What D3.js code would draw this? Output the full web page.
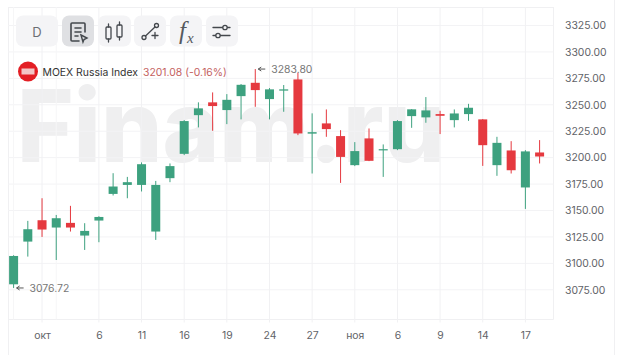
<!DOCTYPE html>
<html><head><meta charset="utf-8">
<script src="https://cdn.jsdelivr.net/npm/d3@7/dist/d3.min.js"></script>
<style>html,body{margin:0;padding:0;background:#fff;overflow:hidden}svg{display:block}text{font-family:Inter,"Noto Sans",sans-serif}</style>
</head><body><svg id="c" width="620" height="355"></svg>
<script>
const open  = [3080.2,3120.6,3140.8,3133.9,3138.3,3126.3,3140.5,3165.7,3174.2,3174.2,3130.1,3180.6,3203.6,3240.2,3252.3,3245.0,3258.2,3270.8,3255.4,3263.4,3274.0,3222.7,3232.4,3220.4,3192.9,3218.2,3207.1,3208.0,3239.3,3238.1,3241.2,3235.5,3241.2,3236.2,3192.9,3206.8,3171.8,3204.9];
const high  = [3107.7,3140.2,3161.6,3145.8,3154.4,3138.0,3144.6,3185.3,3181.8,3195.5,3178.0,3194.5,3235.5,3252.3,3261.7,3260.1,3269.6,3283.8,3265.8,3268.7,3280.3,3241.9,3245.6,3226.0,3214.7,3227.6,3212.5,3235.5,3245.9,3257.3,3244.3,3245.6,3250.9,3236.5,3219.7,3215.6,3207.1,3216.6];
const low   = [3076.72,3106.4,3125.0,3103.2,3130.1,3112.7,3120.0,3164.2,3161.6,3168.0,3122.2,3176.8,3202.4,3228.6,3225.4,3231.7,3236.2,3248.1,3236.2,3243.4,3221.3,3185.0,3219.7,3176.1,3192.0,3196.7,3181.8,3207.1,3228.2,3233.0,3222.3,3228.6,3234.8,3192.2,3182.8,3185.0,3151.5,3194.5];
const close = [3107.0,3132.3,3132.0,3142.7,3133.9,3130.7,3143.9,3172.7,3176.8,3193.8,3174.2,3192.0,3234.6,3246.6,3248.8,3254.7,3268.9,3263.9,3264.6,3264.6,3222.9,3224.1,3227.0,3200.7,3206.2,3197.0,3208.0,3234.6,3245.7,3244.7,3239.6,3241.8,3247.2,3211.8,3214.0,3188.1,3205.9,3201.08];
const xTickIndex  = [2,6,9,12,15,18,21,24,27,30,33,36];
const xTickLabels = ["окт","6","11","16","19","24","27","ноя","6","9","14","17"];
const xExtraGrid  = [0,3];
const yTicks = [3075,3100,3125,3150,3175,3200,3225,3250,3275,3300,3325];
const symbol = "MOEX Russia Index";
const lastText = "3201.08 (-0.16%)";
const maxLabel = "3283.80", minLabel = "3076.72";
const UP="#3DA17F", DOWN="#E5393F";

const svg=d3.select("#c");
const x=d3.scaleLinear().domain([0,37]).range([13.6,539.6]);
const y=d3.scaleLinear().domain([3075,3325]).range([289.8,25.5]);
const plotL=8, plotR=553.5, plotT=7, plotB=319.5;

// frame
const frame=svg.append("g").attr("stroke","#f0f0f2").attr("fill","none");
frame.append("path").attr("d",`M${plotL}.5,${plotT}.5H${plotR}`);
frame.append("path").attr("d",`M${plotL}.5,${plotT}V355`);
frame.append("path").attr("d",`M${plotR},${plotT}V${plotB}`);
frame.append("path").attr("d",`M${plotL},${plotB}H${plotR}`);
frame.append("path").attr("d",`M614.5,0V355`);

// watermark
svg.append("text").attr("x",17).attr("y",161.5).attr("font-size",100).attr("font-weight",800)
  .attr("fill","#efeff0").attr("textLength",428).attr("lengthAdjust","spacingAndGlyphs").text("Finam.ru");

// grid
svg.append("g").attr("stroke","#f3f3f5").selectAll("line").data(yTicks).join("line")
  .attr("x1",plotL).attr("x2",plotR).attr("y1",d=>y(d)).attr("y2",d=>y(d));
svg.append("g").attr("stroke","#f1f1f3").selectAll("line").data(xTickIndex).join("line")
  .attr("x1",d=>x(d)).attr("x2",d=>x(d)).attr("y1",plotT).attr("y2",plotB+3);
svg.append("g").attr("stroke","#f6f6f7").selectAll("line").data(xExtraGrid).join("line")
  .attr("x1",d=>x(d)).attr("x2",d=>x(d)).attr("y1",plotT).attr("y2",plotB);

// axes
const yAxis=d3.axisRight(y).tickValues(yTicks).tickFormat(d3.format(".2f")).tickSize(0).tickPadding(0);
const gy=svg.append("g").attr("transform","translate(565,0)").call(yAxis);
gy.select(".domain").remove();
gy.selectAll("text").attr("font-size",10.4).attr("fill","#5f6368").style("font-family","Inter,sans-serif");
const labelOf=new Map(xTickIndex.map((d,i)=>[d,xTickLabels[i]]));
const xAxis=d3.axisBottom(x).tickValues(xTickIndex).tickFormat(d=>labelOf.get(d)).tickSize(0).tickPadding(0);
const gx=svg.append("g").attr("transform","translate(0,332)").call(xAxis);
gx.select(".domain").remove();
gx.selectAll("text").attr("font-size",10.4).attr("fill","#5f6368").style("font-family","Inter,sans-serif");

// candles
const idx=d3.range(open.length);
const col=i=>close[i]>=open[i]?UP:DOWN;
const cg=svg.append("g");
cg.selectAll("line").data(idx).join("line")
  .attr("x1",i=>x(i)).attr("x2",i=>x(i)).attr("y1",i=>y(high[i])).attr("y2",i=>y(low[i]))
  .attr("stroke",col).attr("stroke-width",1);
const bw=9;
cg.selectAll("rect").data(idx).join("rect")
  .attr("x",i=>x(i)-bw/2).attr("width",bw)
  .attr("y",i=>y(Math.max(open[i],close[i])))
  .attr("height",i=>Math.max(1.2,Math.abs(y(open[i])-y(close[i]))))
  .attr("fill",col);

// extreme labels
const iMax=d3.greatestIndex(high), iMin=d3.leastIndex(low);
function extreme(i,v,t){
  const g=svg.append("g").attr("transform",`translate(${x(i)+3},${y(v)})`);
  g.append("path").attr("d","M0,0H7M0,0l3,-2M0,0l3,2").attr("stroke","#555").attr("fill","none").attr("stroke-width",1);
  g.append("text").attr("x",13).attr("y",3.8).attr("font-size",10.4).attr("fill","#777").text(t);
}
extreme(iMax,high[iMax],maxLabel);
extreme(iMin,low[iMin],minLabel);

// legend
const leg=svg.append("g");
leg.append("circle").attr("cx",28).attr("cy",71.5).attr("r",10).attr("fill","#E31E24");
leg.append("rect").attr("x",21.5).attr("y",68.5).attr("width",13).attr("height",6).attr("fill","#f3c6c6");
leg.append("text").attr("x",42.5).attr("y",76).attr("font-size",10.4).attr("fill","#333").text(symbol);
leg.append("text").attr("x",143).attr("y",76).attr("font-size",10.4).attr("fill","#C4625F").text(lastText);

// toolbar
const btn=[[16,42],[62,32],[98,33],[134,32],[170,32],[206,32]];
const tb=svg.append("g");
tb.selectAll("rect").data(btn).join("rect").attr("x",d=>d[0]).attr("y",15.5).attr("width",d=>d[1]).attr("height",31).attr("rx",7)
  .attr("fill",(d,i)=>i==1?"#dfe0e3":"#f4f4f6");
tb.append("text").attr("x",37).attr("y",37).attr("text-anchor","middle").attr("font-size",13).attr("fill","#6b6f73").text("D");
const ic=tb.append("g").attr("fill","none").attr("stroke","#44484d").attr("stroke-width",1.3).attr("stroke-linecap","round");
ic.append("path").attr("stroke-width",1.6).attr("d","M79,41H72Q71,41 71,40V24Q71,23 72,23H84Q85,23 85,24V32M75,28H81M75,32H81M75,36H78");
ic.append("path").attr("stroke-width",1.4).attr("d","M81,35L87,38L84,39.5L83,42Z");
ic.append("rect").attr("x",106).attr("y",27).attr("width",5).attr("height",12).attr("rx",1);
ic.append("path").attr("d","M108.5,24V27M108.5,39V42");
ic.append("rect").attr("x",117).attr("y",25).attr("width",5).attr("height",12).attr("rx",1);
ic.append("path").attr("d","M119.5,22V25M119.5,37V40");
ic.append("circle").attr("cx",144).attr("cy",37.5).attr("r",2);
ic.append("circle").attr("cx",156.5).attr("cy",25.5).attr("r",2);
ic.append("path").attr("d","M145.5,36L155,27M152,35.5H158M155,32.5V38.5");
tb.append("text").attr("x",179).attr("y",39).style("font-family","Liberation Serif").attr("font-style","italic").attr("font-size",25).attr("fill","#55595e").text("f");
tb.append("text").attr("x",187).attr("y",43).style("font-family","Liberation Serif").attr("font-style","italic").attr("font-size",15).attr("fill","#55595e").text("x");
ic.append("circle").attr("cx",225).attr("cy",27.5).attr("r",2.2);
ic.append("circle").attr("cx",218).attr("cy",35.5).attr("r",2.2);
ic.append("path").attr("d","M213,27.5H222.5M227.5,27.5H230M213,35.5H215.5M220.5,35.5H230");
</script></body></html>
